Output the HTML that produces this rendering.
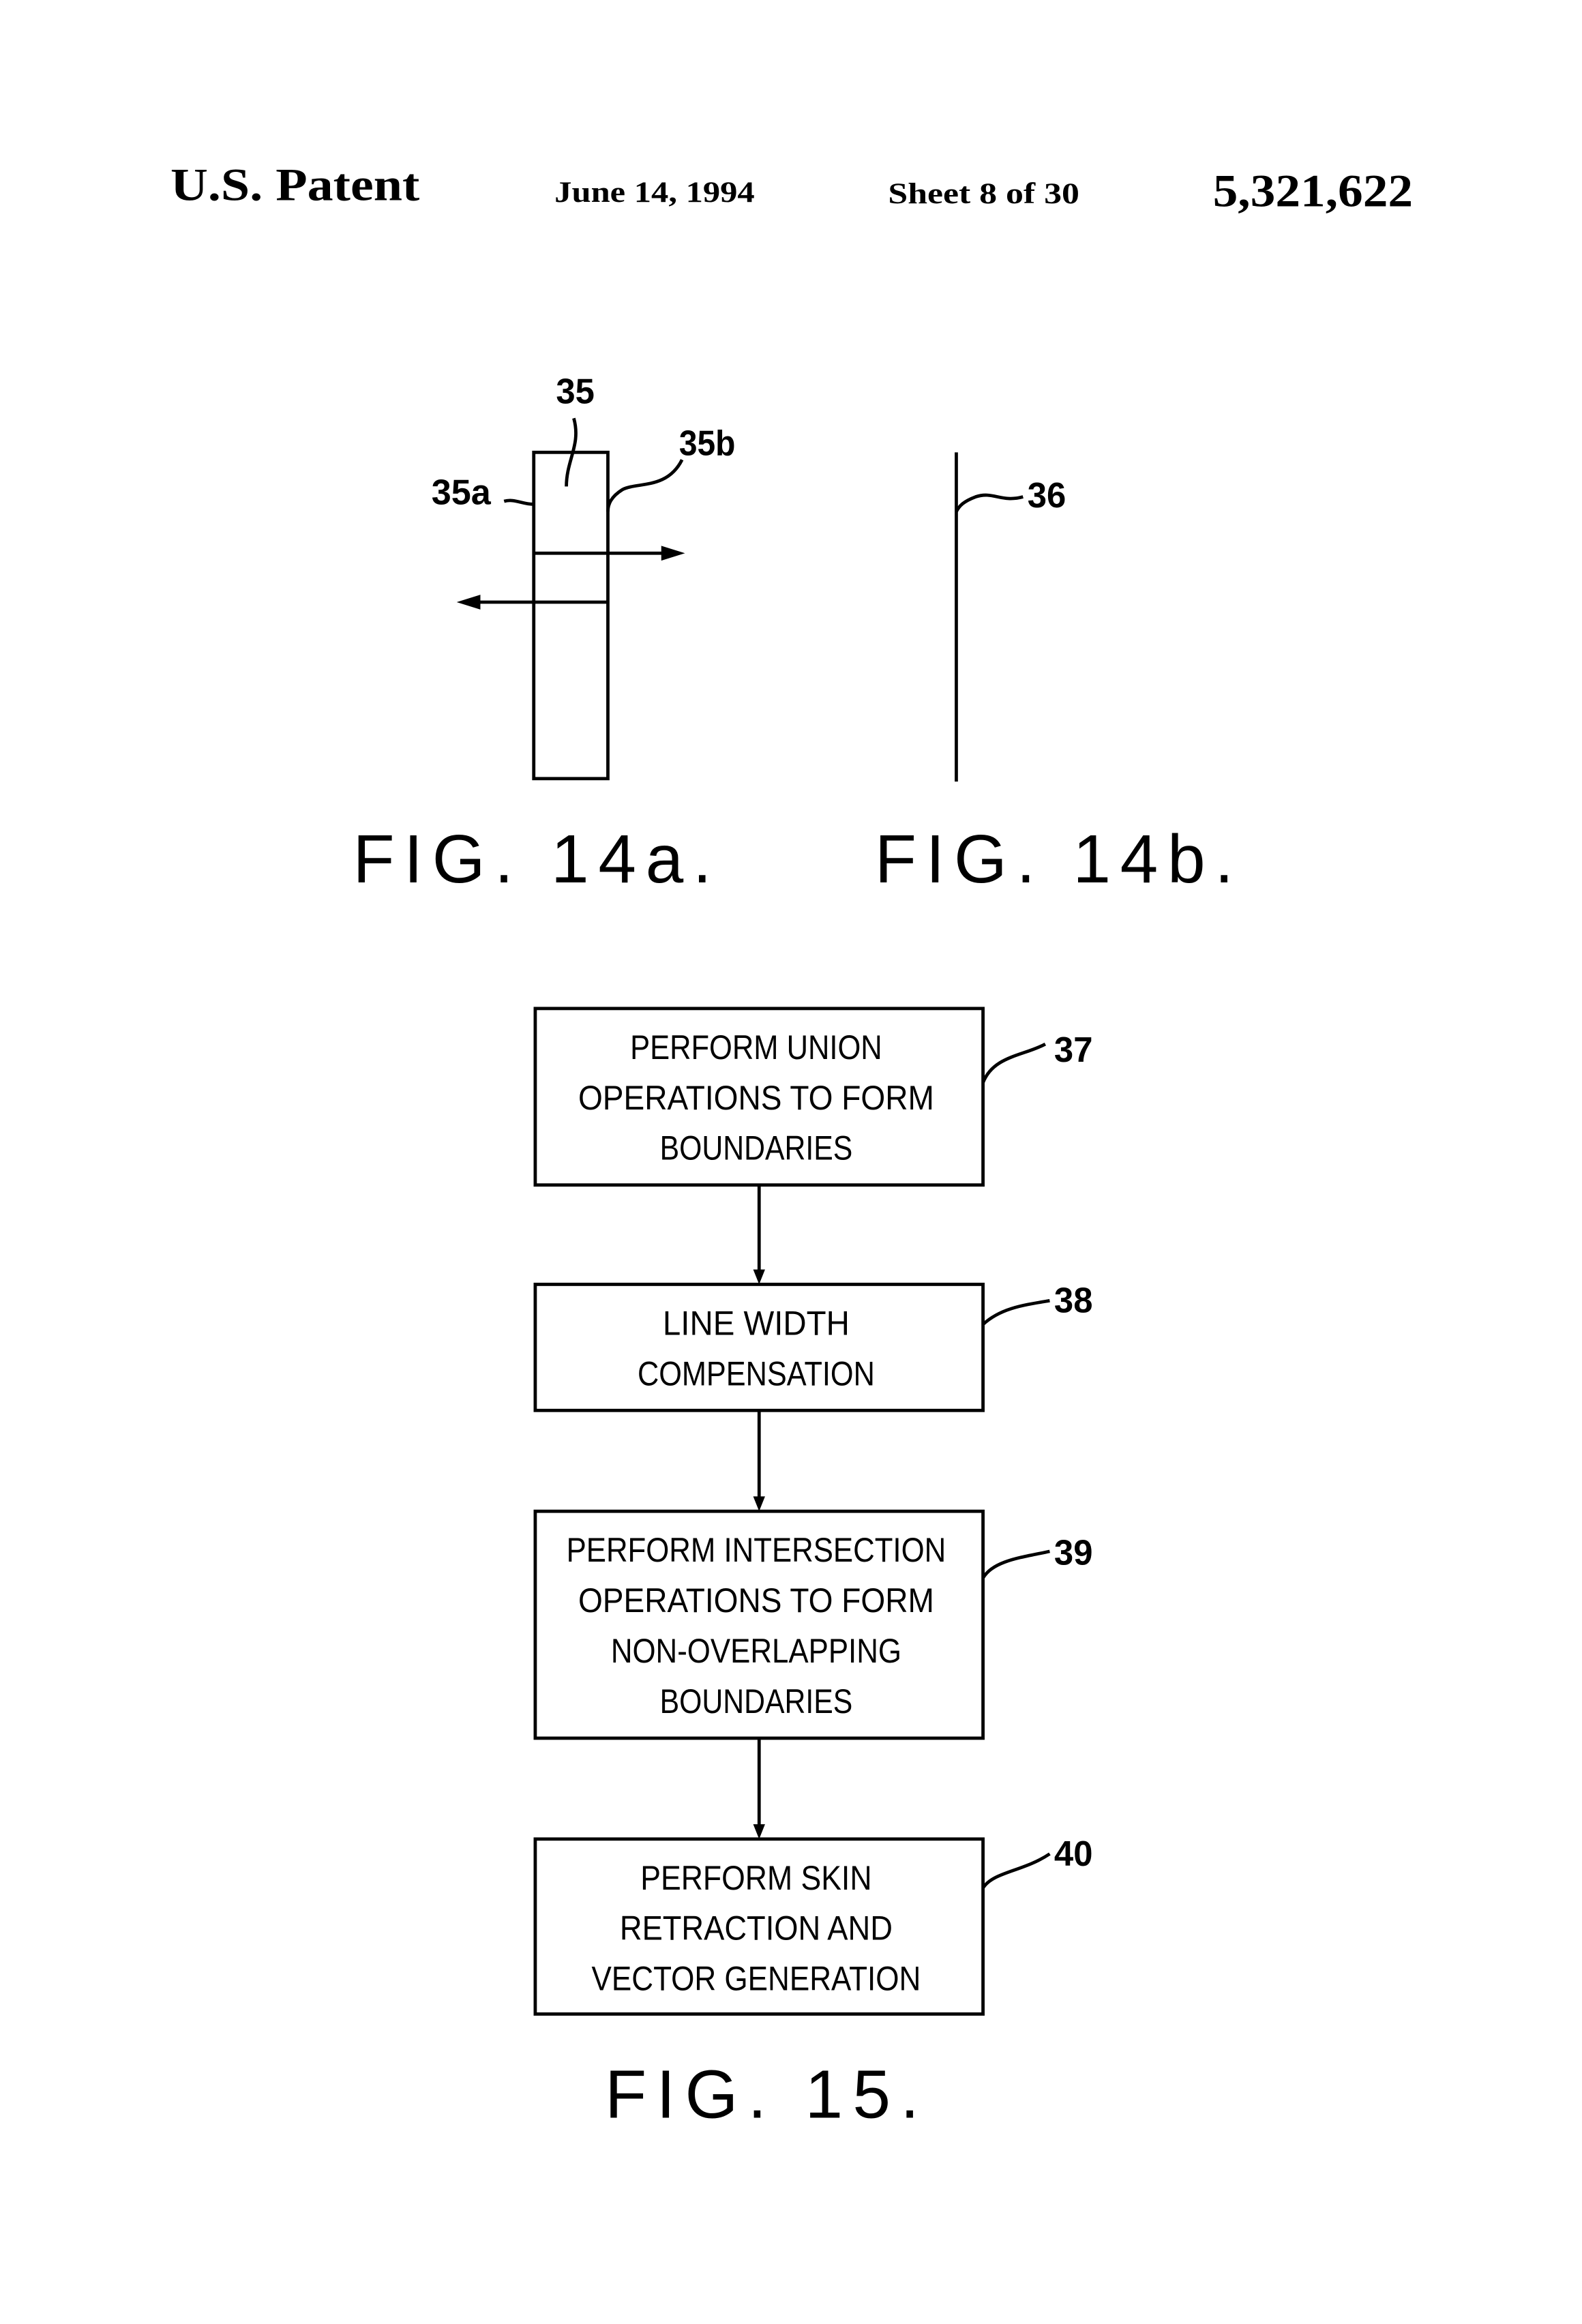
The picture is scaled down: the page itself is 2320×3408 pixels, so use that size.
<!DOCTYPE html>
<html><head><style>html,body{margin:0;padding:0;background:#fff}svg{display:block}</style></head>
<body>
<svg width="2320" height="3408" viewBox="0 0 1067 1567" preserveAspectRatio="none" xmlns="http://www.w3.org/2000/svg">
<rect width="1067" height="1567" fill="#fff"/>
<g font-family="Liberation Serif, serif" font-weight="bold" fill="#000">
<text x="115" y="135" font-size="31" textLength="168" lengthAdjust="spacingAndGlyphs">U.S. Patent</text>
<text x="374" y="136" font-size="20" textLength="135" lengthAdjust="spacingAndGlyphs">June 14, 1994</text>
<text x="599" y="137" font-size="20" textLength="129" lengthAdjust="spacingAndGlyphs">Sheet 8 of 30</text>
<text x="818" y="139" font-size="31" textLength="135" lengthAdjust="spacingAndGlyphs">5,321,622</text>
</g>
<g stroke="#000" fill="none" stroke-width="2.2">
<rect x="360" y="305" width="50" height="220"/>
<line x1="360" y1="373" x2="448" y2="373"/>
<line x1="410" y1="406" x2="322" y2="406"/>
<path d="M387 282 C392 300 382 310 382 328"/>
<path d="M460 310 C450 330 430 325 420 330 C412 335 410 340 410 345"/>
<path d="M340 338 C347 336 352 340 360 340"/>
<line x1="645" y1="305" x2="645" y2="527"/>
<path d="M690 335 C675 339 670 331 658 335 C650 338 647 341 645 345"/>
<rect x="361" y="680" width="302" height="119"/>
<rect x="361" y="866" width="302" height="85"/>
<rect x="361" y="1019" width="302" height="153"/>
<rect x="361" y="1240" width="302" height="118"/>
<line x1="512" y1="799" x2="512" y2="858"/>
<line x1="512" y1="951" x2="512" y2="1011"/>
<line x1="512" y1="1172" x2="512" y2="1232"/>
<path d="M663 730 C670 712 690 712 705 704"/>
<path d="M663 893 C675 882 690 880 708 877"/>
<path d="M663 1064 C670 1052 690 1050 708 1046"/>
<path d="M663 1273 C670 1262 690 1262 708 1250"/>
</g>
<g fill="#000">
<path d="M462 373 L446 368 L446 378 Z"/>
<path d="M308 406 L324 401 L324 411 Z"/>
<path d="M512 866 L508 856 L516 856 Z"/>
<path d="M512 1019 L508 1009 L516 1009 Z"/>
<path d="M512 1240 L508 1230 L516 1230 Z"/>
</g>
<g font-family="Liberation Sans, sans-serif" font-weight="bold" fill="#000" font-size="24">
<text x="375" y="272" textLength="26" lengthAdjust="spacingAndGlyphs">35</text>
<text x="458" y="307" textLength="38" lengthAdjust="spacingAndGlyphs">35b</text>
<text x="291" y="340" textLength="40" lengthAdjust="spacingAndGlyphs">35a</text>
<text x="693" y="342" textLength="26" lengthAdjust="spacingAndGlyphs">36</text>
<text x="711" y="716" textLength="26" lengthAdjust="spacingAndGlyphs">37</text>
<text x="711" y="885" textLength="26" lengthAdjust="spacingAndGlyphs">38</text>
<text x="711" y="1055" textLength="26" lengthAdjust="spacingAndGlyphs">39</text>
<text x="711" y="1258" textLength="26" lengthAdjust="spacingAndGlyphs">40</text>
</g>
<g font-family="Liberation Sans, sans-serif" fill="#000" font-size="46">
<text x="238" y="595" textLength="242" lengthAdjust="spacing">FIG. 14a.</text>
<text x="590" y="595" textLength="242" lengthAdjust="spacing">FIG. 14b.</text>
<text x="408" y="1428" textLength="212" lengthAdjust="spacing">FIG. 15.</text>
</g>
<g font-family="Liberation Sans, sans-serif" fill="#000" font-size="23" text-anchor="middle">
<text x="510" y="714" textLength="170" lengthAdjust="spacingAndGlyphs">PERFORM UNION</text>
<text x="510" y="748" textLength="240" lengthAdjust="spacingAndGlyphs">OPERATIONS TO FORM</text>
<text x="510" y="782" textLength="130" lengthAdjust="spacingAndGlyphs">BOUNDARIES</text>
<text x="510" y="900" textLength="126" lengthAdjust="spacingAndGlyphs">LINE WIDTH</text>
<text x="510" y="934" textLength="160" lengthAdjust="spacingAndGlyphs">COMPENSATION</text>
<text x="510" y="1053" textLength="256" lengthAdjust="spacingAndGlyphs">PERFORM INTERSECTION</text>
<text x="510" y="1087" textLength="240" lengthAdjust="spacingAndGlyphs">OPERATIONS TO FORM</text>
<text x="510" y="1121" textLength="196" lengthAdjust="spacingAndGlyphs">NON-OVERLAPPING</text>
<text x="510" y="1155" textLength="130" lengthAdjust="spacingAndGlyphs">BOUNDARIES</text>
<text x="510" y="1274" textLength="156" lengthAdjust="spacingAndGlyphs">PERFORM SKIN</text>
<text x="510" y="1308" textLength="184" lengthAdjust="spacingAndGlyphs">RETRACTION AND</text>
<text x="510" y="1342" textLength="222" lengthAdjust="spacingAndGlyphs">VECTOR GENERATION</text>
</g>
</svg>
</body></html>
